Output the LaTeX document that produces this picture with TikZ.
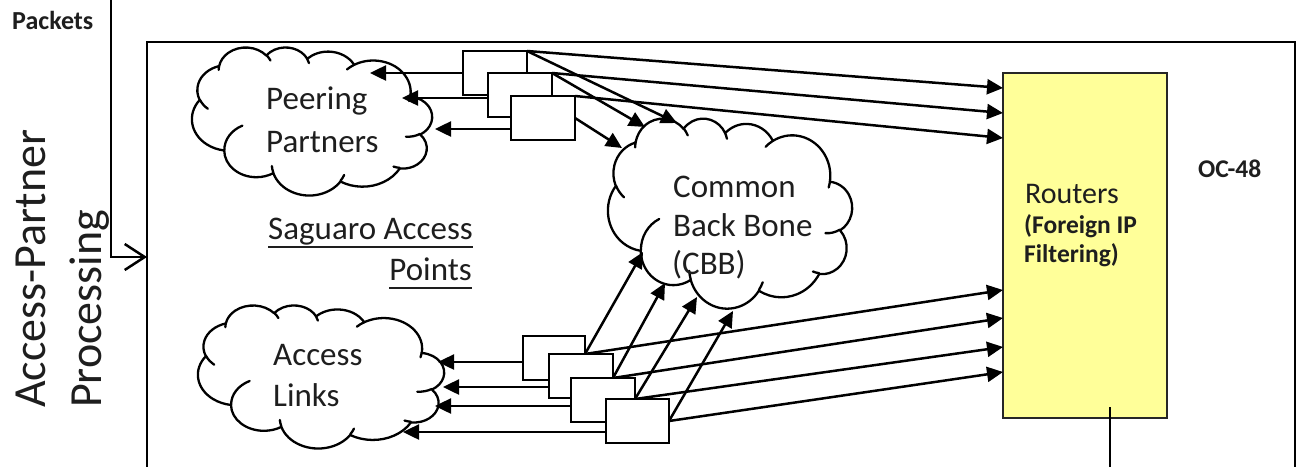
\documentclass[tikz,border=0pt]{standalone}
\usepackage{fontspec}
\setmainfont{Carlito}
\usetikzlibrary{arrows.meta}
\definecolor{tx}{RGB}{30,30,30}
\definecolor{ry}{RGB}{255,255,153}
\pgfdeclarelayer{back}
\pgfsetlayers{back,main}
% DrawingML arcTo: visual angles -> parametric angles
\newcommand\pptang[5]{%
  \pgfmathsetmacro\pptTA{atan2((#2)*sin(#4),(#3)*cos(#4))}%
  \pgfmathsetmacro\pptTB{atan2((#2)*sin((#4)+(#5)),(#3)*cos((#4)+(#5)))}%
  \pgfmathsetmacro\pptTD{mod(\pptTB-\pptTA+720,360)}%
  \expandafter\xdef\csname pptS#1\endcsname{\pptTA}%
  \expandafter\xdef\csname pptD#1\endcsname{\pptTD}%
}
\pptang{A}{67.53}{91.90}{-190.48748}{123.78053}
\pptang{B}{53.33}{72.67}{-144.10238}{89.94523}
\pptang{C}{43.65}{59.45}{-145.80792}{99.72302}
\pptang{D}{48.57}{65.95}{-130.98607}{117.24173}
\pptang{E}{53.33}{72.73}{-78.70888}{109.02692}
\pptang{F}{67.75}{92.20}{-46.26725}{130.269}
\pptang{G}{57.85}{78.67}{0.62502}{114.03333}
\pptang{H}{67.52}{92.15}{22.4516}{115.17255}
\pptang{I}{77.20}{105.43}{66.24263}{75.71102}
\pptang{J}{43.60}{59.18}{-274.94208}{146.73557}
\pptang{K}{43.45}{59.45}{-246.8285}{152.51885}
\pptang{a}{43.45}{59.45}{86.742}{26.4295}
\pptang{b}{43.60}{59.18}{73.61047}{11.44747}
\pptang{c}{67.52}{92.15}{137.62415}{14.0811}
\pptang{d}{67.52}{92.15}{6.45327}{15.99835}
\pptang{e}{57.85}{78.67}{-70.29235}{70.91737}
\pptang{f}{53.33}{72.73}{30.31803}{27.7515}
\pptang{g}{48.57}{65.95}{-13.74433}{14.8589}
\pptang{h}{48.57}{65.95}{-149.18145}{18.19537}
\pptang{i}{43.65}{59.45}{-163.49427}{17.68635}
\pptang{j}{67.53}{91.90}{-66.70695}{12.31935}
\pptang{k}{67.53}{91.90}{157.65435}{11.85817}
\newcommand\cloudoutline{(39.00,143.70)
 arc[start angle=\pptSA,delta angle=\pptDA,x radius=67.53,y radius=91.90]
 arc[start angle=\pptSB,delta angle=\pptDB,x radius=53.33,y radius=72.67]
 arc[start angle=\pptSC,delta angle=\pptDC,x radius=43.65,y radius=59.45]
 arc[start angle=\pptSD,delta angle=\pptDD,x radius=48.57,y radius=65.95]
 arc[start angle=\pptSE,delta angle=\pptDE,x radius=53.33,y radius=72.73]
 arc[start angle=\pptSF,delta angle=\pptDF,x radius=67.75,y radius=92.20]
 arc[start angle=\pptSG,delta angle=\pptDG,x radius=57.85,y radius=78.67]
 arc[start angle=\pptSH,delta angle=\pptDH,x radius=67.52,y radius=92.15]
 arc[start angle=\pptSI,delta angle=\pptDI,x radius=77.20,y radius=105.43]
 arc[start angle=\pptSJ,delta angle=\pptDJ,x radius=43.60,y radius=59.18]
 arc[start angle=\pptSK,delta angle=\pptDK,x radius=43.45,y radius=59.45]
 -- cycle}
\newcommand\cloudinner{%
 (46.93,261.77) arc[start angle=\pptSa,delta angle=\pptDa,x radius=43.45,y radius=59.45]
 (69.28,348.99) arc[start angle=\pptSb,delta angle=\pptDb,x radius=43.60,y radius=59.18]
 (164.78,390.90) arc[start angle=\pptSc,delta angle=\pptDc,x radius=67.52,y radius=92.15]
 (288.27,347.51) arc[start angle=\pptSd,delta angle=\pptDd,x radius=67.52,y radius=92.15]
 (341.29,229.54) arc[start angle=\pptSe,delta angle=\pptDe,x radius=57.85,y radius=78.67]
 (417.98,153.54) arc[start angle=\pptSf,delta angle=\pptDf,x radius=53.33,y radius=72.73]
 (383.24,54.26) arc[start angle=\pptSg,delta angle=\pptDg,x radius=48.57,y radius=65.95]
 (290.78,39.52) arc[start angle=\pptSh,delta angle=\pptDh,x radius=48.57,y radius=65.95]
 (221.41,47.20) arc[start angle=\pptSi,delta angle=\pptDi,x radius=43.65,y radius=59.45]
 (140.00,51.92) arc[start angle=\pptSj,delta angle=\pptDj,x radius=67.53,y radius=91.90]
 (41.27,157.89) arc[start angle=\pptSk,delta angle=\pptDk,x radius=67.53,y radius=91.90]}
% mirrored PowerPoint cloud in box (x0,y0,w,h)
\newcommand\pptcloud[4]{%
  \pgfmathsetmacro\cldx{#3/432}\pgfmathsetmacro\cldy{#4/432}%
  \pgfmathsetmacro\cldr{#1+#3}%
  \begin{scope}[xshift=\cldr pt,yshift=-#2pt,x=-\cldx pt,y=-\cldy pt]
    \fill[white] \cloudoutline;
    \draw[cloudln] \cloudoutline;
    \draw[cloudln] \cloudinner;
  \end{scope}}
\begin{document}
\begin{tikzpicture}[x=1pt,y=-1pt,
  ln/.style={line width=2.5pt,draw=black},
  arr/.style={line width=2.5pt,-{Triangle[length=16pt,width=15pt]}},
  bx/.style={draw,line width=2.5pt,fill=white,inner sep=0pt,outer sep=0pt,anchor=north west,minimum width=64pt,minimum height=44pt},
  cloudln/.style={line width=2.3pt,line join=round,line cap=round},
  txt/.style={inner sep=0pt,anchor=base west,text=tx,font=\fontsize{33}{40}\selectfont},
  small/.style={txt,font=\bfseries\fontsize{25.5}{30}\selectfont}]
\useasboundingbox (0,0) rectangle (1298,466);

% small boxes (top)
\node[bx] (b1) at (463,51) {};
\node[bx] (b2) at (488,73) {};
\node[bx] (b3) at (511,96) {};
% small boxes (bottom)
\node[bx,minimum width=62pt] (bA) at (523,336) {};
\node[bx] (bB) at (549,354) {};
\node[bx] (bC) at (571,378) {};
\node[bx,minimum width=63pt] (bD) at (606,399) {};

% texts
\node[small,font=\bfseries\fontsize{26}{30}\selectfont] (pkt) at (12,29) {Packets};
\node[txt,font=\fontsize{46}{56}\selectfont,rotate=90] (ap1) at (45,408) {Access-Partner};
\node[txt,font=\fontsize{46}{56}\selectfont,rotate=90] (ap2) at (101,408) {Processing};
\node[txt] (pp1) at (266,109) {Peering};
\node[txt] (pp2) at (266,152) {Partners};
\node[txt] (al1t) at (273,365) {Access};
\node[txt] (al2t) at (273,406) {Links};
\node[txt] (cb1t) at (673,197) {Common};
\node[txt] (cb2t) at (673,236) {Back Bone};
\node[txt] (cb3t) at (672,274) {(CBB)};
\node[txt] (sag1) at (268,239) {Saguaro Access};
\node[txt,anchor=base east] (sag2) at (472,280) {Points};
\draw[line width=2.2pt,tx] ([yshift=-8pt]sag1.base west) -- ([yshift=-8pt]sag1.base east);
\draw[line width=2.2pt,tx] ([yshift=-8pt]sag2.base west) -- ([yshift=-8pt]sag2.base east);
\node[txt,font=\fontsize{30}{36}\selectfont] (rt1) at (1025,203) {Routers};
\node[small] (rt2) at (1024,233) {(Foreign IP};
\node[small] (rt3) at (1024,262) {Filtering)};
\node[small] (oc) at (1198,177) {OC-48};

\begin{pgfonlayer}{back}
% outer frame
\node[draw,line width=2.5pt,inner sep=0pt,outer sep=0pt,anchor=north west,minimum width=1148pt,minimum height=460pt] (sap) at (147,42) {};
% routers
\node[draw=black!85,line width=2.5pt,fill=ry,inner sep=0pt,outer sep=0pt,anchor=north west,minimum width=164pt,minimum height=345pt] (rt) at (1003,73) {};
\coordinate (rtb) at (1110,407);
\coordinate (rtb2) at (1110,470);
\draw[ln] (rtb) -- (rtb2);
% packets
\coordinate (pk0) at (111,-5);
\coordinate (pkc) at (111,257);
\draw[line width=2.5pt,-{Straight Barb[length=20pt,width=26pt,line width=2.5pt]}] (pk0) -- (pkc) -- (sap.west |- pkc);
% clouds
\pptcloud{192}{47}{240}{148}
\pptcloud{198}{305}{246}{143}
\pptcloud{608}{118}{244}{190}
% arrow end points
\coordinate (pe1) at (370,73);
\coordinate (pe2) at (402,98);
\coordinate (pe3) at (435,129);
\coordinate (ae1) at (438,362);
\coordinate (ae2) at (443,387);
\coordinate (ae3) at (435,406);
\coordinate (ae4) at (403,432);
\coordinate (ce1) at (677,123);
\coordinate (ce2) at (645,127);
\coordinate (ce3) at (622,148);
\coordinate (ce4) at (643,252);
\coordinate (ce5) at (665,283);
\coordinate (ce6) at (697,297);
\coordinate (ce7) at (733,311);
\coordinate (r1) at (1003,88);
\coordinate (r2) at (1003,113);
\coordinate (r3) at (1003,138);
\coordinate (r4) at (1003,290);
\coordinate (r5) at (1003,318);
\coordinate (r6) at (1003,347);
\coordinate (r7) at (1003,372);
% to peering partners
\draw[arr] (b1.west |- pe1) -- (pe1);
\draw[arr] (b2.west |- pe2) -- (pe2);
\draw[arr] (b3.west |- pe3) -- (pe3);
% to access links
\draw[arr] (bA.west |- ae1) -- (ae1);
\draw[arr] (bB.west |- ae2) -- (ae2);
\draw[arr] (bC.west |- ae3) -- (ae3);
\draw[arr] (bD.west |- ae4) -- (ae4);
% to CBB
\draw[arr] (b1.north east) -- (ce1);
\draw[arr] (b2.north east) -- (ce2);
\draw[arr] (b3.east) -- (ce3);
\draw[arr] (bA.east |- bB.north) -- (ce4);
\draw[arr] (bB.east |- bC.north) -- (ce5);
\draw[arr] (bC.east |- bD.north) -- (ce6);
\draw[arr] (bD.east) -- (ce7);
% to routers
\draw[arr] (b1.north east) -- (r1);
\draw[arr] (b2.north east) -- (r2);
\draw[arr] (b3.north east) -- (r3);
\draw[arr] (bA.east |- bB.north) -- (r4);
\draw[arr] (bB.east |- bC.north) -- (r5);
\draw[arr] (bC.east |- bD.north) -- (r6);
\draw[arr] (bD.east) -- (r7);
\end{pgfonlayer}
\end{tikzpicture}
\end{document}
